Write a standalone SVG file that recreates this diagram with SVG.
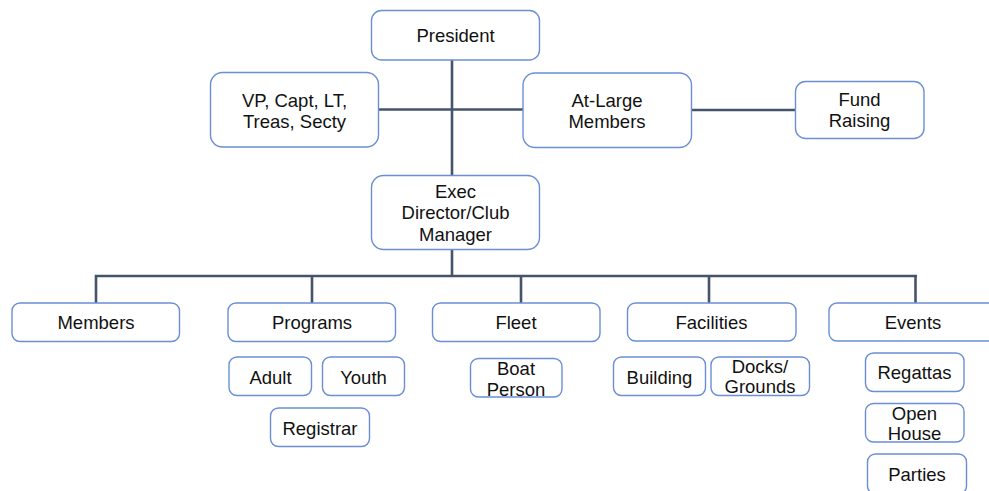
<svg xmlns="http://www.w3.org/2000/svg" width="989" height="491" viewBox="0 0 989 491">
<style>
.b{fill:#fff;stroke:#6a8fd6;stroke-width:1.4}
.t{font-family:"Liberation Sans",Arial,sans-serif;font-size:18.5px;fill:#111;text-anchor:middle}
.c{stroke:#44546a;stroke-width:2.6;fill:none}
</style>
<rect width="989" height="491" fill="#fff"/>
<g id="connectors">
<line class="c" x1="452" y1="60" x2="452" y2="175"/>
<line class="c" x1="379" y1="109.5" x2="523" y2="109.5"/>
<line class="c" x1="692" y1="110" x2="795" y2="110"/>
<line class="c" x1="452" y1="249" x2="452" y2="276"/>
<line class="c" x1="95" y1="276" x2="917" y2="276"/>
<line class="c" x1="96" y1="275" x2="96" y2="303"/>
<line class="c" x1="312" y1="275" x2="312" y2="303"/>
<line class="c" x1="521" y1="275" x2="521" y2="303"/>
<line class="c" x1="709" y1="275" x2="709" y2="303"/>
<line class="c" x1="915.5" y1="275" x2="915.5" y2="303"/>
</g>
<g id="president"><rect class="b" x="371.5" y="10.5" width="168" height="49.5" rx="10"/><text class="t" x="455.5" y="42.3">President</text></g>
<g id="vp"><rect class="b" x="210.5" y="72.5" width="168" height="74.5" rx="12"/><text class="t" x="294.5" y="106.7">VP, Capt, LT,</text><text class="t" x="294.5" y="127.7">Treas, Secty</text></g>
<g id="atlarge"><rect class="b" x="523" y="73" width="168.5" height="74.5" rx="12"/><text class="t" x="607" y="106.7">At-Large</text><text class="t" x="607" y="127.7">Members</text></g>
<g id="fund"><rect class="b" x="795.5" y="81.5" width="128.5" height="57" rx="10"/><text class="t" x="859.5" y="106">Fund</text><text class="t" x="859.5" y="126.7">Raising</text></g>
<g id="exec"><rect class="b" x="371.5" y="175.5" width="168" height="74" rx="12"/><text class="t" x="455.5" y="198.3">Exec</text><text class="t" x="455.5" y="219.3">Director/Club</text><text class="t" x="455.5" y="240.7">Manager</text></g>
<g id="members"><rect class="b" x="12" y="303" width="167.5" height="38.5" rx="8"/><text class="t" x="96" y="329">Members</text></g>
<g id="programs"><rect class="b" x="228" y="303" width="167.5" height="38.5" rx="8"/><text class="t" x="312" y="329">Programs</text></g>
<g id="fleet"><rect class="b" x="432.5" y="303" width="167.5" height="38.5" rx="8"/><text class="t" x="516" y="329">Fleet</text></g>
<g id="facilities"><rect class="b" x="627.5" y="303" width="168.5" height="38" rx="8"/><text class="t" x="711.5" y="328.7">Facilities</text></g>
<g id="events"><rect class="b" x="829" y="303" width="168" height="38" rx="8"/><text class="t" x="913" y="328.7">Events</text></g>
<g id="adult"><rect class="b" x="229" y="357" width="82.5" height="38.5" rx="8"/><text class="t" x="270.5" y="384">Adult</text></g>
<g id="youth"><rect class="b" x="322.5" y="357" width="82" height="38.5" rx="8"/><text class="t" x="363.5" y="384">Youth</text></g>
<g id="registrar"><rect class="b" x="270.5" y="408" width="99" height="38.5" rx="8"/><text class="t" x="320" y="435">Registrar</text></g>
<g id="boatperson"><rect class="b" x="470.5" y="358.5" width="91.5" height="38.5" rx="8"/><text class="t" x="516" y="375">Boat</text><text class="t" x="516" y="395.7">Person</text></g>
<g id="building"><rect class="b" x="613.5" y="357" width="92" height="38.5" rx="8"/><text class="t" x="659.5" y="384">Building</text></g>
<g id="docks"><rect class="b" x="711" y="357" width="98.5" height="38.5" rx="8"/><text class="t" x="760" y="373.3">Docks/</text><text class="t" x="760" y="393.3">Grounds</text></g>
<g id="regattas"><rect class="b" x="865.5" y="353" width="98.5" height="38.5" rx="8"/><text class="t" x="914.5" y="379">Regattas</text></g>
<g id="openhouse"><rect class="b" x="865.5" y="403.5" width="98.5" height="38.5" rx="8"/><text class="t" x="914.5" y="420">Open</text><text class="t" x="914.5" y="440">House</text></g>
<g id="parties"><rect class="b" x="867.5" y="454" width="99" height="40" rx="8"/><text class="t" x="917" y="480.7">Parties</text></g>
</svg>
